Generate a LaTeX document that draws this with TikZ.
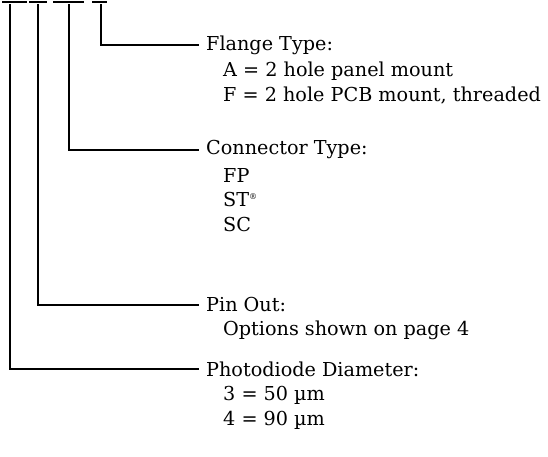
\documentclass[tikz,border=0pt]{standalone}
\usepackage{fontspec}
\setmainfont{DejaVu Serif}
\usetikzlibrary{positioning}

\begin{document}
\begin{tikzpicture}[x=1pt,y=-1pt,font=\fontsize{19.2}{22}\selectfont,title/.style={anchor=west,inner xsep=7pt,inner ysep=0pt},item/.style={anchor=west,inner sep=0pt},lead/.style={line width=1.4pt},bar/.style={line width=2.6pt}]
\useasboundingbox (0,0) rectangle (548,456);
% cut-off part number marks along the top edge
\draw[bar] (2,2) -- (27,2);
\draw[bar] (29,2) -- (47,2);
\draw[bar] (53,2) -- (84,2);
\draw[bar] (92,2) -- (107,2);
\coordinate (dDiam) at (10,4);
\coordinate (dPin) at (38,4);
\coordinate (dConn) at (69,4);
\coordinate (dFlange) at (101,4);
% field titles
\node[title] (flange) at (199,45) {Flange Type:};
\node[item] (flangeA) at (223,71) {A = 2 hole panel mount};
\node[item] (flangeF) at (223,96) {F = 2 hole PCB mount, threaded};
\node[title] (conn) at (199,150) {Connector Type:};
\node[item] (connFP) at (223,175) {FP};
\node[item] (connST) at (223,200) {ST\textsuperscript{\footnotesize\textregistered}};
\node[item] (connSC) at (223,225) {SC};
\node[title] (pin) at (199,305) {Pin Out:};
\node[item] (pinOpt) at (223,330) {Options shown on page 4};
\node[title] (diam) at (199,369) {Photodiode Diameter:};
\node[item] (diam3) at (223,395) {3 = 50 µm};
\node[item] (diam4) at (223,420) {4 = 90 µm};
% leaders
\draw[lead] (dFlange) |- (flange.west);
\draw[lead] (dConn) |- (conn.west);
\draw[lead] (dPin) |- (pin.west);
\draw[lead] (dDiam) |- (diam.west);
\end{tikzpicture}
\end{document}
